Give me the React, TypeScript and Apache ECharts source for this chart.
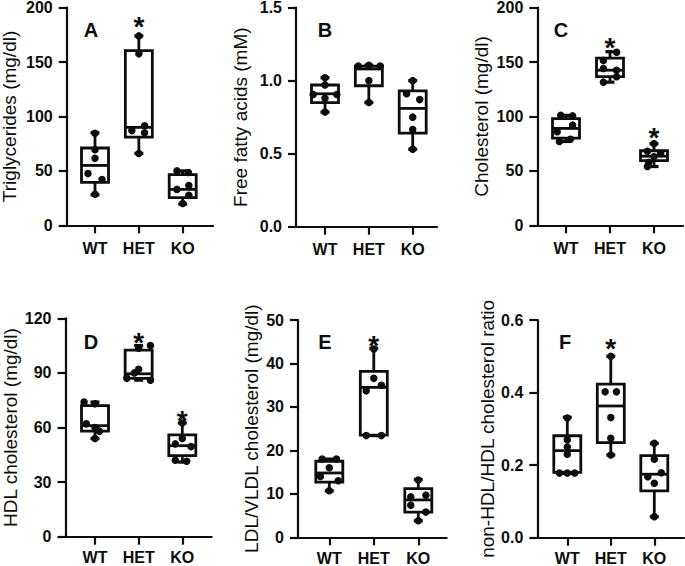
import React, { useEffect, useRef } from 'react';
import * as echarts from 'echarts';

const categories = ['WT', 'HET', 'KO'];

// Panel A – Triglycerides (mg/dl): box stats [min, q1, median, q3, max]
const tgBox = [[28, 39.5, 55, 71, 85], [66, 81, 90, 160.5, 174], [19.5, 25.5, 33, 46.5, 50]];
const tgPoints = [[84.5, 69.5, 61.5, 47.5, 42, 28.5], [174, 157.5, 91.5, 87, 85, 66], [50, 48.5, 36.5, 33, 27.5, 20]];
const tgJitter = [[0, 0, 0, -0.16, 0.16, 0], [0, 0, 0.13, -0.16, 0.13, 0], [-0.13, 0.13, 0.14, -0.13, 0.14, 0]];
const tgStars = [null, 189, null];

// Panel B – Free fatty acids (mM)
const ffaBox = [[0.785, 0.85, 0.91, 0.97, 1.02], [0.85, 0.965, 1.08, 1.1, 1.105], [0.53, 0.64, 0.81, 0.93, 1.0]];
const ffaPoints = [[1.02, 0.97, 0.905, 0.905, 0.88, 0.785], [1.1, 1.105, 1.1, 1.0, 0.85], [1.0, 0.91, 0.87, 0.75, 0.665, 0.53]];
const ffaJitter = [[0, 0, -0.27, 0.27, 0, 0], [-0.24, 0, 0.26, 0, 0], [0, -0.14, 0.16, 0, 0, 0]];
const ffaStars = [null, null, null];

// Panel C – Cholesterol (mg/dl)
const cholBox = [[77, 80, 89, 98, 101], [131.5, 136.5, 142.5, 153.5, 159.5], [54, 59.5, 63.5, 68.5, 75]];
const cholPoints = [[101, 100.5, 92, 86, 79, 77], [159, 151.5, 144, 142.5, 136.5, 131.5], [75, 68, 66, 63, 58, 54]];
const cholJitter = [[-0.12, 0.15, 0.15, -0.2, 0.1, -0.15], [0.15, -0.15, -0.15, 0.15, 0.15, -0.15], [0, -0.15, 0.15, 0, -0.12, -0.15]];
const cholStars = [null, 170, 87.4];

// Panel D – HDL cholesterol (mg/dl)
const hdlBox = [[54, 58, 61, 72, 74], [86, 87, 89.5, 102.5, 105], [41, 44.5, 50, 56, 62.5]];
const hdlPoints = [[74, 73, 62, 60, 58, 54], [105, 103.5, 92, 90, 87, 86], [62.5, 54, 51, 49.5, 42, 41.5]];
const hdlJitter = [[-0.25, 0, -0.2, 0, 0.1, 0], [0.27, 0, 0, -0.1, -0.27, 0.27], [0, 0, -0.16, 0.2, -0.16, 0.1]];
const hdlStars = [null, 110.8, 67.8];

// Panel E – LDL/VLDL cholesterol (mg/dl)
const ldlBox = [[10.7, 12.7, 14.8, 17.5, 18], [23.4, 23.5, 34.5, 38.2, 43.5], [3.8, 5.8, 8.6, 11.2, 13.3]];
const ldlPoints = [[18, 18, 16, 14, 13, 10.7], [43.3, 36.6, 35, 33.7, 23.4, 23.4], [13.2, 9.7, 9.3, 7.4, 5.8, 3.8]];
const ldlJitter = [[-0.16, 0.16, 0, -0.2, 0.2, 0], [0, 0, 0.17, -0.17, -0.17, 0.17], [0, 0.17, -0.17, -0.17, 0.17, 0]];
const ldlStars = [null, 45.8, null];

// Panel F – non-HDL/HDL cholesterol ratio
const ratioBox = [[0.177, 0.18, 0.24, 0.281, 0.332], [0.228, 0.262, 0.363, 0.423, 0.5], [0.058, 0.129, 0.175, 0.226, 0.26]];
const ratioPoints = [[0.33, 0.27, 0.25, 0.23, 0.178, 0.178, 0.178], [0.5, 0.402, 0.402, 0.331, 0.274, 0.228], [0.26, 0.216, 0.179, 0.168, 0.15, 0.058]];
const ratioJitter = [[0, 0, 0, 0, -0.18, 0, 0.17], [0, -0.13, 0.13, 0, 0, 0], [0, 0, 0.16, -0.15, 0, 0]];
const ratioStars = [null, 0.54, null];

const yMax = [200, 1.5, 200, 120, 50, 0.6];
const yStep = [50, 0.5, 50, 30, 10, 0.2];
const yDecimals = [0, 1, 0, 0, 0, 1];
const yTitles = [
  'Triglycerides (mg/dl)',
  'Free fatty acids (mM)',
  'Cholesterol (mg/dl)',
  'HDL cholesterol (mg/dl)',
  'LDL/VLDL cholesterol (mg/dl)',
  'non-HDL/HDL cholesterol ratio',
];
const panelLetters = ['A', 'B', 'C', 'D', 'E', 'F'];

const boxes = [tgBox, ffaBox, cholBox, hdlBox, ldlBox, ratioBox];
const points = [tgPoints, ffaPoints, cholPoints, hdlPoints, ldlPoints, ratioPoints];
const jitters = [tgJitter, ffaJitter, cholJitter, hdlJitter, ldlJitter, ratioJitter];
const stars = [tgStars, ffaStars, cholStars, hdlStars, ldlStars, ratioStars];

// Layout (pixels): axis origin, axis end, top, bottom, first/last category positions
const LAYOUT = [
  { x0: 66.7, x1: 213, y0: 7.6, y1: 225.3, c0: 95, c2: 182.7, gap: 49, lx: 91, ly: 30, lm: 15 },
  { x0: 296, x1: 437, y0: 7.6, y1: 226.7, c0: 325, c2: 412.7, gap: 48, lx: 325, ly: 30, lm: 15 },
  { x0: 537.3, x1: 683, y0: 7.6, y1: 225.3, c0: 566, c2: 654, gap: 48, lx: 561, ly: 30, lm: 15 },
  { x0: 65.5, x1: 211.7, y0: 318.3, y1: 536.7, c0: 95, c2: 182.3, gap: 47, lx: 91, ly: 341.5, lm: 13 },
  { x0: 298, x1: 446.7, y0: 320, y1: 537.3, c0: 329.3, c2: 418.3, gap: 39, lx: 325, ly: 341.5, lm: 13 },
  { x0: 537.3, x1: 684, y0: 320, y1: 537.7, c0: 567.3, c2: 654.3, gap: 40, lx: 565, ly: 341.5, lm: 13 },
];

const FONT = "'Liberation Sans', Arial, Helvetica, sans-serif";
const INK = '#0d0d0d';
const BOX_W = 27;
const CAP_HALF = 4.5;

function buildOption() {
  const grid: any[] = [];
  const xAxis: any[] = [];
  const yAxis: any[] = [];
  const series: any[] = [];
  const graphic: any[] = [];

  LAYOUT.forEach((L, i) => {
    const sp = (L.c2 - L.c0) / 2;
    grid.push({
      left: L.x0,
      top: L.y0,
      width: L.x1 - L.x0,
      height: L.y1 - L.y0,
      outerBoundsMode: 'none',
    });
    xAxis.push({
      gridIndex: i,
      type: 'value',
      min: -(L.c0 - L.x0) / sp,
      max: 2 + (L.x1 - L.c2) / sp,
      axisLine: { show: true, onZero: false, lineStyle: { color: INK, width: 2.2 } },
      axisTick: { show: true, length: 8, customValues: [0, 1, 2], lineStyle: { color: INK, width: 2.2 } },
      axisLabel: {
        customValues: [0, 1, 2],
        formatter: (v: number) => categories[Math.round(v)] ?? '',
        fontSize: 16,
        fontWeight: 'bold',
        fontFamily: FONT,
        color: INK,
        margin: L.lm,
      },
      splitLine: { show: false },
    });
    const dec = yDecimals[i];
    yAxis.push({
      gridIndex: i,
      type: 'value',
      min: 0,
      max: yMax[i],
      interval: yStep[i],
      axisLine: { show: true, onZero: false, lineStyle: { color: INK, width: 2.2 } },
      axisTick: { show: true, length: 8, lineStyle: { color: INK, width: 2.2 } },
      axisLabel: {
        formatter: (v: number) => v.toFixed(dec),
        fontSize: 16,
        lineHeight: 13,
        fontWeight: 'bold',
        fontFamily: FONT,
        color: INK,
        margin: 14,
      },
      splitLine: { show: false },
      name: yTitles[i],
      nameLocation: 'middle',
      nameRotate: 90,
      nameGap: L.gap,
      nameTextStyle: { fontSize: 19, lineHeight: 16, fontFamily: FONT, color: INK },
    });

    // boxes & whiskers
    series.push({
      type: 'custom',
      xAxisIndex: i,
      yAxisIndex: i,
      data: boxes[i].map((b, k) => [k, ...b]),
      encode: { x: 0, y: [1, 2, 3, 4, 5] },
      z: 2,
      renderItem: (params: any, api: any) => {
        const x = api.value(0);
        const p = [1, 2, 3, 4, 5].map((d) => api.coord([x, api.value(d)]));
        const cx = p[0][0];
        const st = { stroke: INK, lineWidth: 2.8, fill: null };
        const cap = { stroke: INK, lineWidth: 3.2, fill: null };
        return {
          type: 'group',
          children: [
            { type: 'line', shape: { x1: cx, y1: p[4][1], x2: cx, y2: p[3][1] }, style: st },
            { type: 'line', shape: { x1: cx, y1: p[1][1], x2: cx, y2: p[0][1] }, style: st },
            { type: 'line', shape: { x1: cx - CAP_HALF, y1: p[4][1], x2: cx + CAP_HALF, y2: p[4][1] }, style: cap },
            { type: 'line', shape: { x1: cx - CAP_HALF, y1: p[0][1], x2: cx + CAP_HALF, y2: p[0][1] }, style: cap },
            {
              type: 'rect',
              shape: { x: cx - BOX_W / 2, y: p[3][1], width: BOX_W, height: p[1][1] - p[3][1] },
              style: { stroke: INK, lineWidth: 2.8, fill: '#fff' },
            },
            { type: 'line', shape: { x1: cx - BOX_W / 2, y1: p[2][1], x2: cx + BOX_W / 2, y2: p[2][1] }, style: st },
          ],
        };
      },
    });

    // individual points
    const pts: number[][] = [];
    points[i].forEach((grp, k) => {
      grp.forEach((v, j) => pts.push([k + jitters[i][k][j], v]));
    });
    series.push({
      type: 'scatter',
      xAxisIndex: i,
      yAxisIndex: i,
      data: pts,
      symbol: 'circle',
      symbolSize: 7.5,
      itemStyle: { color: INK, opacity: 1 },
      z: 3,
    });

    // significance stars
    const starData: number[][] = [];
    stars[i].forEach((s, k) => {
      if (s !== null) starData.push([k, s]);
    });
    if (starData.length) {
      series.push({
        type: 'scatter',
        xAxisIndex: i,
        yAxisIndex: i,
        data: starData,
        symbolSize: 1,
        itemStyle: { color: 'rgba(0,0,0,0)', opacity: 1 },
        label: {
          show: true,
          formatter: '*',
          position: 'inside',
          offset: [0, 7],
          fontSize: 28,
          fontWeight: 'bold',
          fontFamily: FONT,
          color: INK,
          opacity: 1,
        },
        z: 4,
      });
    }

    graphic.push({
      type: 'text',
      x: L.lx,
      y: L.ly,
      style: {
        text: panelLetters[i],
        fontSize: 20,
        fontWeight: 'bold',
        fontFamily: FONT,
        fill: INK,
        align: 'center',
        verticalAlign: 'middle',
      },
    });
  });

  return {
    animation: false,
    backgroundColor: '#fff',
    textStyle: { fontFamily: FONT },
    grid,
    xAxis,
    yAxis,
    series,
    graphic,
  };
}

export default function App() {
  const ref = useRef<HTMLDivElement>(null);
  useEffect(() => {
    if (!ref.current) return;
    const chart = echarts.init(ref.current, undefined, { renderer: 'svg' });
    chart.setOption(buildOption() as any);
    return () => chart.dispose();
  }, []);
  return (
    <div
      ref={ref}
      style={{ position: 'fixed', left: 0, top: 0, width: 685, height: 566, background: '#fff' }}
    />
  );
}
